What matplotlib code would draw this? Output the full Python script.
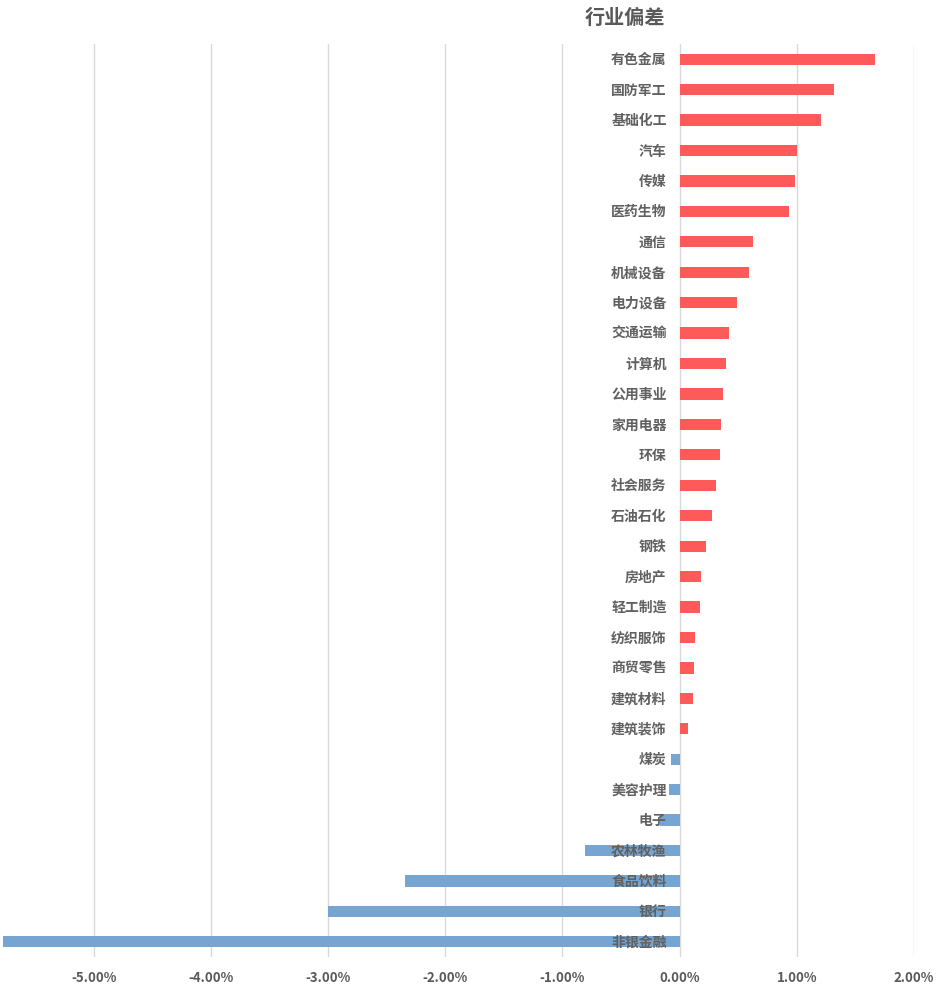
import numpy as np
import matplotlib
matplotlib.use("Agg")
import matplotlib.pyplot as plt

plt.rcParams['font.family'] = ['Noto Sans CJK SC', 'DejaVu Sans']

# 行业偏差（%），从上到下
industries = ['有色金属', '国防军工', '基础化工', '汽车', '传媒', '医药生物', '通信', '机械设备',
              '电力设备', '交通运输', '计算机', '公用事业', '家用电器', '环保', '社会服务',
              '石油石化', '钢铁', '房地产', '轻工制造', '纺织服饰', '商贸零售', '建筑材料',
              '建筑装饰', '煤炭', '美容护理', '电子', '农林牧渔', '食品饮料', '银行', '非银金融']
deviation = [1.665, 1.315, 1.205, 1.00, 0.983, 0.932, 0.625, 0.59,
             0.488, 0.42, 0.395, 0.369, 0.352, 0.344, 0.31,
             0.275, 0.224, 0.181, 0.173, 0.13, 0.122, 0.113,
             0.071, -0.074, -0.09, -0.168, -0.807, -2.345, -2.999, -5.771]
xticks = [-5, -4, -3, -2, -1, 0, 1, 2]

red = '#FF5A5A'
blue = '#75A5D0'
grey = '#595959'

fig = plt.figure(figsize=(9.4, 9.86), dpi=100)
ax = fig.add_axes([0.0, 29 / 986, 914 / 940, (957 - 44) / 986])

y = np.arange(len(industries))
colors = [red if v >= 0 else blue for v in deviation]
ax.barh(y, deviation, height=0.37, color=colors, zorder=2)

for i, name in enumerate(industries):
    ax.annotate(name, (0, i), xytext=(-13, -1), textcoords='offset pixels',
                ha='right', va='center', fontsize=10, fontweight='bold',
                color='#606060', zorder=3)

ax.set_xlim(-5.8, 2.0)
ax.set_ylim(len(industries) - 0.5, -0.5)
ax.set_xticks(xticks)
ax.set_xticklabels(['{:.2f}%'.format(v) for v in xticks], fontsize=9.5,
                   fontweight='bold', color=grey)
ax.tick_params(axis='x', length=0, pad=10)
ax.set_yticks([])
ax.grid(axis='x', color='#D9D9D9', linewidth=1, zorder=0)
for s in ax.spines.values():
    s.set_visible(False)

fig.text(625 / 940, 1 - 17 / 986, '行业偏差', ha='center', va='center',
         fontsize=14.5, fontweight='bold', color=grey)

fig.savefig('out.png', dpi=100)
